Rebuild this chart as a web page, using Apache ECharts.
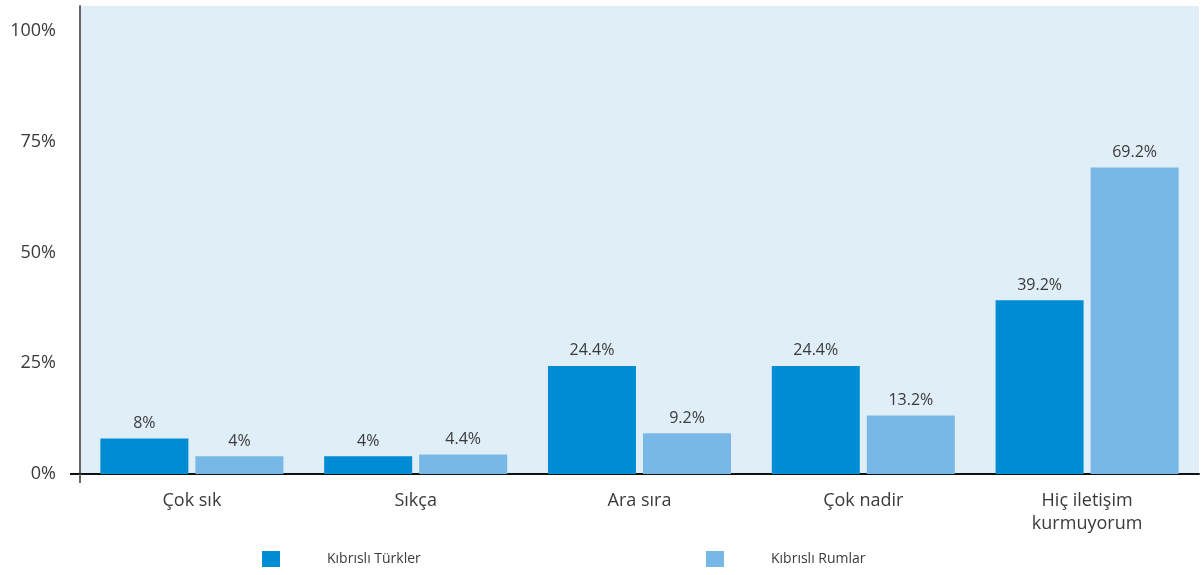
<!DOCTYPE html>
<html>
<head>
<meta charset="utf-8">
<script src="https://cdn.jsdelivr.net/npm/echarts@6/dist/echarts.min.js"></script>
<style>html,body{margin:0;padding:0;background:#fff}#c{width:1203px;height:575px}</style>
</head>
<body>
<div id="c"></div>
<script>
const categories = ['Çok sık', 'Sıkça', 'Ara sıra', 'Çok nadir', 'Hiç iletişim\nkurmuyorum'];
const seriesNames = ['Kıbrıslı Türkler', 'Kıbrıslı Rumlar'];
const turkishCypriots = [8, 4, 24.4, 24.4, 39.2];
const greekCypriots = [4, 4.4, 9.2, 13.2, 69.2];
const yTicks = [0, 25, 50, 75, 100];

const FONT = '"Open Sans", "Noto Sans", sans-serif';
const TXT = '#3a3a3a';
const colors = ['#008cd4', '#78b8e6'];

const chart = echarts.init(document.getElementById('c'));
function fmt(v) { return (Math.round(v * 10) / 10) + '%'; }
chart.setOption({
  animation: false,
  textStyle: { fontFamily: FONT },
  grid: { left: 80, right: 4, top: 6, bottom: 101, show: true, backgroundColor: '#e0eef8', borderWidth: 0 },
  legend: [
    { left: 257, top: 546, itemWidth: 18, itemHeight: 16, icon: 'rect', data: [seriesNames[0]],
      textStyle: { fontFamily: FONT, fontSize: 14, color: TXT, padding: [0, 0, 0, 42] } },
    { left: 701, top: 546, itemWidth: 18, itemHeight: 16, icon: 'rect', data: [seriesNames[1]],
      textStyle: { fontFamily: FONT, fontSize: 14, color: TXT, padding: [0, 0, 0, 42] } }
  ],
  xAxis: [{
    type: 'category',
    data: categories,
    axisLine: { lineStyle: { color: '#111', width: 2 } },
    axisTick: { show: false },
    axisLabel: { fontFamily: FONT, fontSize: 18, color: TXT, margin: 15, lineHeight: 23 }
  }, {
    type: 'value',
    position: 'bottom',
    min: 0,
    max: 1,
    axisLine: { show: false },
    axisTick: { show: true, customValues: [0], length: 9, lineStyle: { color: '#666', width: 2 } },
    axisLabel: { show: false },
    splitLine: { show: false }
  }],
  yAxis: {
    type: 'value',
    min: 0,
    max: 105.64,
    interval: 25,
    axisLine: { show: true, lineStyle: { color: '#666', width: 2 } },
    axisTick: { show: true, customValues: [0], length: 10, lineStyle: { color: '#111', width: 2 } },
    axisLabel: { customValues: yTicks, formatter: function (v) { return v + '%'; }, fontFamily: FONT, fontSize: 18, color: TXT, margin: 24 },
    splitLine: { show: true, lineStyle: { color: '#ffffff', width: 2 } }
  },
  series: [
    { name: seriesNames[0], type: 'bar', data: turkishCypriots, barWidth: 88, barGap: '8%',
      itemStyle: { color: colors[0] },
      label: { show: true, position: 'top', distance: 7, formatter: function (p) { return fmt(p.value); }, fontFamily: FONT, fontSize: 16, color: TXT } },
    { name: seriesNames[1], type: 'bar', data: greekCypriots, barWidth: 88,
      itemStyle: { color: colors[1] },
      label: { show: true, position: 'top', distance: 7, formatter: function (p) { return fmt(p.value); }, fontFamily: FONT, fontSize: 16, color: TXT } }
  ]
});
</script>
</body>
</html>
